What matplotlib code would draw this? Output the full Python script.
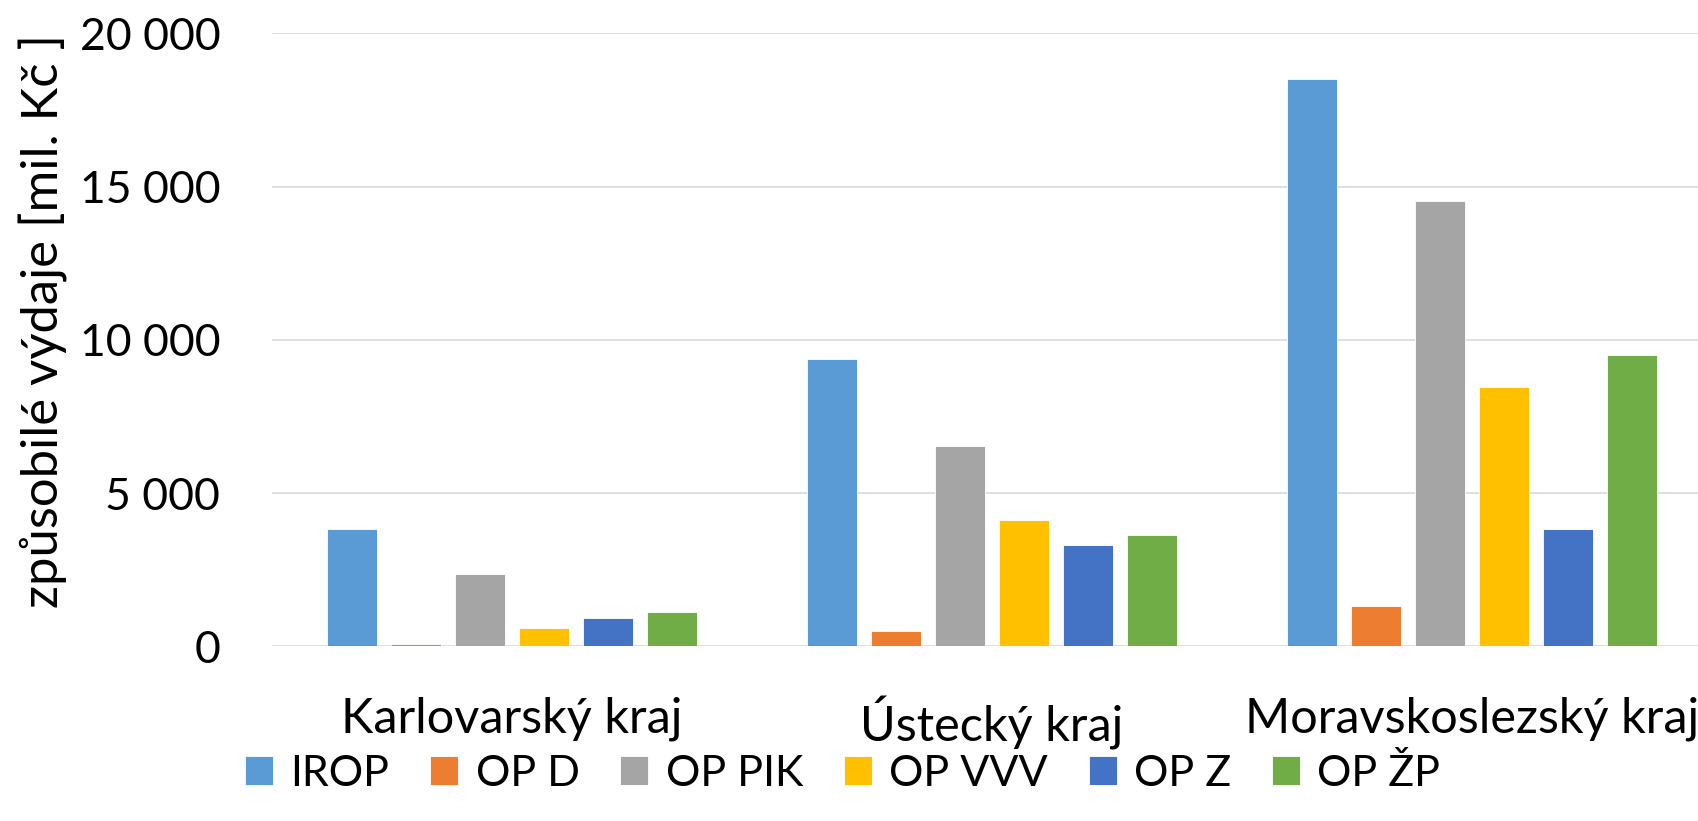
import numpy as np
import matplotlib
matplotlib.use("Agg")
import matplotlib.pyplot as plt
from matplotlib.ticker import FuncFormatter

regions = ["Karlovarský kraj", "Ústecký kraj", "Moravskoslezský kraj"]
programs = ["IROP", "OP D", "OP PIK", "OP VVV", "OP Z", "OP ŽP"]
irop = [3830, 9360, 18510]
op_d = [60, 500, 1300]
op_pik = [2370, 6520, 14530]
op_vvv = [610, 4110, 8450]
op_z = [925, 3320, 3840]
op_zp = [1110, 3640, 9510]
series = [irop, op_d, op_pik, op_vvv, op_z, op_zp]
colors = ["#5B9BD5", "#ED7D31", "#A5A5A5", "#FFC000", "#4472C4", "#70AD47"]

plt.rcParams['font.family'] = ['Lato', 'DejaVu Sans']
fs = 35

fig = plt.figure(figsize=(16.99, 8.21), dpi=100)
ax = fig.add_axes([0.1599, 0.2128, 1 - 0.1599, 0.7466])

x = np.arange(len(regions))
pitch = 0.1333
width = 0.104
for i, (vals, name, c) in enumerate(zip(series, programs, colors)):
    ax.bar(x + (i - 2.5) * pitch, vals, width, color=c, label=name,
           edgecolor="white", linewidth=0.6, zorder=3)

ax.set_ylim(0, 20000)
ax.set_xlim(-0.5, 2.4735)
ax.set_yticks(range(0, 20001, 5000))
ax.yaxis.set_major_formatter(FuncFormatter(lambda v, p: f"{int(v):,}".replace(",", " ")))
ax.set_xticks(x)
ax.set_xticklabels(regions)
ax.tick_params(axis='both', length=0)
ax.tick_params(axis='x', labelsize=fs, pad=36)
ax.tick_params(axis='y', labelsize=32, pad=37)
ax.grid(axis='y', color="#D9D9D9", linewidth=1.2, zorder=0)
for s in ax.spines.values():
    s.set_visible(False)

fig.text(43 / 1699, 0.609, "způsobilé výdaje [mil. Kč ]", rotation=90,
         fontsize=36.5, ha='center', va='center')

fig.legend(loc='center', bbox_to_anchor=(0.496, 0.058), ncol=6, frameon=False,
           fontsize=31, handlelength=0.65, handleheight=0.65,
           handletextpad=0.4, columnspacing=0.95, borderaxespad=0)

fig.savefig("out.png", dpi=100)
